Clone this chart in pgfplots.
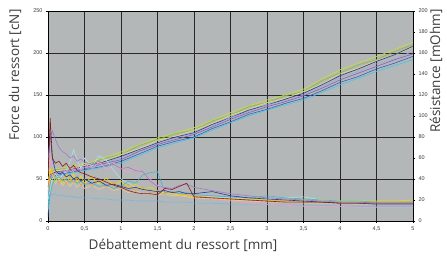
\documentclass[border=0pt]{standalone}
\usepackage{fontspec}
\setmainfont{Open Sans}
\newfontfamily\tickfont{Liberation Sans}
\usepackage{pgfplots}
\usepackage{pgfplotstable}
\pgfplotsset{compat=1.18}
\definecolor{bgc}{RGB}{180,183,183}
\definecolor{gridc}{RGB}{40,40,40}
\definecolor{txtc}{RGB}{60,60,60}
\definecolor{f1}{HTML}{CCDD33}
\definecolor{f2}{HTML}{88BB44}
\definecolor{f3}{HTML}{E0E070}
\definecolor{f4}{HTML}{283C8C}
\definecolor{f5}{HTML}{A0A8E0}
\definecolor{f6}{HTML}{8860B8}
\definecolor{f7}{HTML}{3060C8}
\definecolor{f8}{HTML}{40C8E8}
\definecolor{r1}{HTML}{8B1A1A}
\definecolor{r2}{HTML}{A878C8}
\definecolor{r3}{HTML}{203C90}
\definecolor{r4}{HTML}{F0A0C8}
\definecolor{r5}{HTML}{F5D800}
\definecolor{r6}{HTML}{F0A040}
\definecolor{r7}{HTML}{A8E4EC}
\definecolor{r8}{HTML}{40B8C8}
\definecolor{r9}{HTML}{70B8E0}
\definecolor{r10}{HTML}{F0C890}

\pgfplotstableread{
x f1 f2 f3 f4 f5 f6 f7 f8
0 30 45 50 40 25 35 5 15
0.03 60 58 57 55 54 53 50 50
0.1 62 61 60 58 57 56 54 53
0.25 64 63 61 60 59 59 57 56
0.5 68 66 66 65 64 62 61 60
0.75 75 74 71 70 68 68 65 64
1 82 79 79 77 75 73 71 69
1.25 91 90 86 85 84 83 80 78
1.5 99 97 96 93 92 91 89 87
1.75 105 104 101 100 99 97 95 93
2 111 108 108 105 104 103 100 99
2.25 120 119 116 115 113 112 110 108
2.5 129 126 126 123 123 121 118 117
2.75 137 136 133 132 130 129 127 125
3 144 141 141 138 138 136 133 132
3.25 150 149 146 145 143 142 140 138
3.5 157 154 154 152 150 149 146 144
3.75 169 167 163 162 160 158 155 153
4 180 176 175 173 171 168 165 162
4.25 188 186 182 181 178 176 172 170
4.5 196 192 191 190 187 184 181 178
4.75 204 202 198 198 193 192 188 185
5 213 210 207 208 202 199 196 192
}\forcetab

\pgfplotstableread{
x r1 r2 r3 r4 r5 r6 r7 r8 r9 r10
0 40 55 60 45 35 30 20 10 22 28
0.03 98 80 84 60 50 45 30 25 24 40
0.06 60 86 60 52 44 48 40 35 25 38
0.1 55 78 48 48 38 42 45 40 26 36
0.15 57 70 45 44 42 36 40 42 24 40
0.2 52 66 46 50 36 40 44 38 25 34
0.25 55 64 42 46 44 35 48 40 23 38
0.3 50 60 44 52 38 42 56 37 24 33
0.35 53 62 40 47 45 36 68 40 23 37
0.4 48 57 42 53 37 41 58 36 22 32
0.45 46 59 38 48 43 34 50 38 23 36
0.5 45 56 40 55 36 40 60 35 22 31
0.6 42 54 36 50 42 33 52 36 22 34
0.7 40 57 38 56 35 39 62 33 21 30
0.8 37 52 34 49 41 32 58 34 21 33
0.9 34 54 35 55 33 37 48 31 20 29
1.0 32 50 33 50 38 31 40 33 20 31
1.1 29 51 31 46 32 35 36 38 20 27
1.2 27 48 32 52 35 29 32 36 19 29
1.3 26 47 30 44 30 32 30 44 19 26
1.4 26 38 29 40 32 27 29 46 19 27
1.5 25 33 28 34 28 29 28 47 19 25
1.6 31 32 29 30 27 26 27 27 18 26
1.7 30 31 27 28 26 27 26 28 18 24
1.8 33 34 28 26 25 25 25 26 18 24
1.9 36 35 26 25 24 25 25 27 18 23
2.0 23 32 26 24 23 24 24 25 17 22
2.25 22 29 28 21 22 22 23 24 17 21
2.5 21 26 24 19 21 21 22 23 16 20
2.75 20 24 22 17 21 20 21 22 16 19
3 19 22 21 16 20 19 21 24 16 18
3.25 18 21 20 15 20 19 22 22 15 18
3.5 18 20 19 14 20 18 23 21 15 17
3.75 18 19 18 14 20 18 20 20 15 17
4 17 18 17 14 19 18 19 19 14 17
4.25 17 18 17 13 19 18 19 19 14 16
4.5 17 17 16 13 19 18 18 18 14 16
4.75 17 17 16 13 19 18 18 18 14 16
5 17 17 16 13 20 18 18 18 14 16
}\restab

\pgfplotsset{
  common/.style={
    at={(0,0)}, anchor=south west,
    scale only axis, width=365pt, height=210pt,
    xmin=0, xmax=5,
    tick align=outside, major tick length=2pt,
    tick style={black, line width=0.5pt},
    axis line style={black, line width=0.6pt},
    ticklabel style={font=\tickfont\fontsize{5.5}{6}\selectfont, text=txtc},
    /pgf/number format/.cd, use comma, 1000 sep={}, assume math mode=true,
    /pgfplots/.cd,
    every axis plot/.append style={line width=0.6pt, mark=none},
  }
}

\begin{document}
\begin{tikzpicture}
\useasboundingbox (-48pt,-40pt) rectangle (399pt,221pt);
\begin{axis}[common,
  ymin=0, ymax=250,
  xtick={0,0.5,...,5}, ytick={0,50,...,250},
  xticklabels={0,{0,5},1,{1,5},2,{2,5},3,{3,5},4,{4,5},5},
  xtick pos=left, ytick pos=left,
  grid=major, major grid style={draw=gridc, line width=0.8pt},
  axis background/.style={fill=bgc},
  every axis y label/.style={at={(axis description cs:-0.09,0.695)}, anchor=center, rotate=90, font=\fontsize{13.5}{15}\selectfont, text=txtc},
  every axis x label/.style={at={(axis description cs:0.37,-0.114)}, anchor=center, font=\fontsize{13.5}{15}\selectfont, text=txtc},
  ylabel={Force du ressort [cN]},
  xlabel={Débattement du ressort [mm]},
]
\addplot[f1] table[x=x,y=f1]{\forcetab};
\addplot[f2] table[x=x,y=f2]{\forcetab};
\addplot[f3] table[x=x,y=f3]{\forcetab};
\addplot[f4] table[x=x,y=f4]{\forcetab};
\addplot[f5] table[x=x,y=f5]{\forcetab};
\addplot[f6] table[x=x,y=f6]{\forcetab};
\addplot[f7] table[x=x,y=f7]{\forcetab};
\addplot[f8] table[x=x,y=f8]{\forcetab};
\end{axis}
\begin{axis}[common,
  ymin=0, ymax=200,
  axis x line=none, axis y line*=right,
  ytick={0,20,...,200}, ytick pos=right,
  yticklabel style={anchor=west},
  every axis y label/.style={at={(axis description cs:1.063,0.714)}, anchor=center, rotate=90, font=\fontsize{13.5}{15}\selectfont, text=txtc},
  ylabel={Résistance [mOhm]},
]
\addplot[r9] table[x=x,y=r9]{\restab};
\addplot[r7] table[x=x,y=r7]{\restab};
\addplot[r10] table[x=x,y=r10]{\restab};
\addplot[r4] table[x=x,y=r4]{\restab};
\addplot[r6] table[x=x,y=r6]{\restab};
\addplot[r5] table[x=x,y=r5]{\restab};
\addplot[r8] table[x=x,y=r8]{\restab};
\addplot[r3] table[x=x,y=r3]{\restab};
\addplot[r2] table[x=x,y=r2]{\restab};
\addplot[r1] table[x=x,y=r1]{\restab};
\end{axis}
\end{tikzpicture}
\end{document}
